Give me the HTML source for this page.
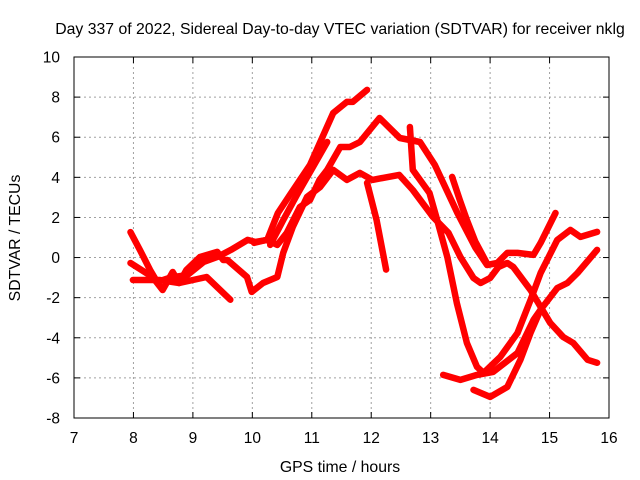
<!DOCTYPE html>
<html><head><meta charset="utf-8"><style>
html,body{margin:0;padding:0;background:#fff;}
svg{display:block;font-family:"Liberation Sans",sans-serif;}
</style></head><body>
<svg id="chart" width="640" height="480" viewBox="0 0 640 480">
<g id="grid"></g>
<g id="series"></g>
<g id="axes"></g>
<text x="340" y="34" text-anchor="middle" font-size="15.8" fill="#000">Day 337 of 2022, Sidereal Day-to-day VTEC variation (SDTVAR) for receiver nklg</text>
<text x="340" y="472" text-anchor="middle" font-size="15.8" fill="#000">GPS time / hours</text>
<text x="20" y="238" text-anchor="middle" font-size="15.8" fill="#000" transform="rotate(-90 20 238)">SDTVAR / TECUs</text>
</svg>
<script>
const xTicks=[7,8,9,10,11,12,13,14,15,16];
const yTicks=[-8,-6,-4,-2,0,2,4,6,8,10];
const s1h=[7.95,8.11,8.28,8.40,8.62,8.91,9.18,9.41,9.64,9.92,10.05,10.25,10.43,10.63,10.97,11.36,11.59,11.69,11.93];
const s1v=[1.27,0.37,-0.62,-1.22,-1.0,-0.87,-0.22,0.03,0.38,0.88,0.78,0.88,2.22,3.12,4.62,7.21,7.76,7.76,8.36];
const s2h=[7.95,8.32,8.49,8.66,8.77,8.89,9.12,9.41,9.51,9.58,9.91,9.99,10.18,10.42,10.52,10.68,10.92,11.14,11.36,11.59,11.81,12.02,12.47,12.70,13.04,13.30,13.50,13.72,13.84,14.00,14.14,14.29,14.39,14.68,15.01,15.23,15.40,15.64,15.80];
const s2v=[-0.27,-0.97,-1.62,-0.72,-1.27,-0.62,0.03,0.28,-0.12,-0.12,-0.97,-1.71,-1.27,-0.97,0.23,1.53,3.02,3.52,4.37,3.87,4.22,3.87,4.12,3.37,2.02,1.23,0.03,-1.02,-1.27,-1.02,-0.47,-0.27,-0.47,-1.62,-3.26,-3.96,-4.26,-5.1,-5.25];
const s3h=[10.03,10.24,10.42,10.58,10.80,10.97,11.13,11.26,11.48,11.64,11.81,12.14,12.48,12.82,13.07,13.45,13.75,13.95,14.12,14.29,14.46,14.73,14.85,15.10];
const s3v=[0.73,0.88,0.63,1.23,2.52,2.87,3.87,4.37,5.51,5.51,5.76,6.96,5.96,5.76,4.62,2.22,0.5,-0.37,-0.27,0.23,0.23,0.13,0.73,2.22];
const s4h=[10.30,10.52,10.75,11.02,11.26];
const s4v=[0.63,1.87,3.12,4.52,5.76];
const s5h=[7.99,8.44,8.77,9.23,9.63];
const s5v=[-1.12,-1.12,-1.27,-0.97,-2.1];
const s6h=[11.93,12.09,12.25];
const s6v=[3.72,1.87,-0.6];
const s7h=[12.65,12.70,12.98,13.11,13.28,13.44,13.61,13.78,13.89,14.17,14.46,14.68,14.85,15.13,15.35,15.52,15.80];
const s7v=[6.51,4.37,3.22,1.87,0.03,-2.26,-4.26,-5.45,-5.75,-4.96,-3.76,-2.12,-0.77,0.88,1.38,1.03,1.28];
const s8h=[13.21,13.50,13.78,14.05,14.46,14.73,14.85,15.13,15.30,15.47,15.80];
const s8v=[-5.85,-6.1,-5.85,-5.7,-4.76,-3.11,-2.6,-1.52,-1.27,-0.77,0.38];
const s9h=[13.72,14.00,14.29,14.51,14.68,14.85];
const s9v=[-6.6,-6.95,-6.45,-5.1,-3.76,-2.6];
const s10h=[13.36,13.49,13.61,13.75,13.95];
const s10v=[4.02,2.87,1.87,0.8,-0.3];
const seriesH=[s1h,s2h,s3h,s4h,s5h,s6h,s7h,s8h,s9h,s10h];
const seriesV=[s1v,s2v,s3v,s4v,s5v,s6v,s7v,s8v,s9v,s10v];

const NS='http://www.w3.org/2000/svg';
const L=74,R=609,T=57,B=418;
function X(h){return L+(h-7)/(16-7)*(R-L);}
function Y(v){return B-(v+8)/(10+8)*(B-T);}
function mk(tag,attrs,parent){const e=document.createElementNS(NS,tag);for(const k in attrs)e.setAttribute(k,attrs[k]);parent.appendChild(e);return e;}
const grid=document.getElementById('grid'),axes=document.getElementById('axes'),ser=document.getElementById('series');
xTicks.forEach(t=>{
  const x=X(t);
  if(t>7&&t<16){const g=mk('line',{x1:x,y1:T,x2:x,y2:B,stroke:'#a0a0a0','stroke-width':1,'stroke-dasharray':'2,3'},grid);
  
  }
  const tk=mk('line',{x1:x,y1:B,x2:x,y2:B-6,stroke:'#000'},axes);
  
  
  const tk2=mk('line',{x1:x,y1:T,x2:x,y2:T+6,stroke:'#000'},axes);
  
  
  const tx=mk('text',{x:x,y:B+25,'text-anchor':'middle','font-size':'15.5'},axes);tx.textContent=t;
  
  
});
yTicks.forEach(t=>{
  const y=Y(t);
  if(t>-8&&t<10){const g=mk('line',{x1:L,y1:y,x2:R,y2:y,stroke:'#a0a0a0','stroke-width':1,'stroke-dasharray':'2,3'},grid);
  
  }
  const tk=mk('line',{x1:L,y1:y,x2:L+6,y2:y,stroke:'#000'},axes);
  
  
  const tk2=mk('line',{x1:R,y1:y,x2:R-6,y2:y,stroke:'#000'},axes);
  
  
  const tx=mk('text',{x:L-14,y:y+5.5,'text-anchor':'end','font-size':'15.5'},axes);tx.textContent=t;
  
  
});
const fr=mk('rect',{x:L,y:T,width:R-L,height:B-T,fill:'none',stroke:'#000','stroke-width':1},axes);


seriesH.forEach((hs,i)=>{
  const vs=seriesV[i];
  const pts=hs.map((h,j)=>X(h).toFixed(1)+','+Y(vs[j]).toFixed(1)).join(' ');
  const p=mk('polyline',{points:pts,fill:'none',stroke:'#ff0000','stroke-width':6.5,'stroke-linejoin':'round','stroke-linecap':'round'},ser);
  
  
});
</script>
</body></html>
